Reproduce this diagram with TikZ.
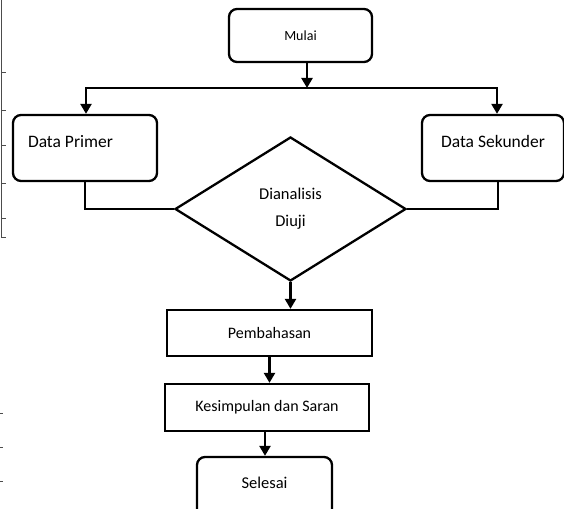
\documentclass[tikz,border=0pt]{standalone}
\usepackage{fontspec}
\setmainfont{Carlito}
\usetikzlibrary{shapes.geometric,arrows.meta}
\tikzset{
  rbox/.style={draw, line width=2.3pt, rounded corners=8pt, inner sep=0pt, font=\fontsize{16.5}{20}\selectfont},
  pbox/.style={draw, line width=2.3pt, inner sep=0pt, font=\fontsize{16}{20}\selectfont},
  dec/.style={draw, diamond, line width=2.3pt, inner sep=0pt, minimum width=231pt, minimum height=144pt, align=center, font=\fontsize{16.5}{27}\selectfont},
  arr/.style={line width=2.3pt, -{Triangle[length=10pt,width=11pt]}},
  conn/.style={line width=2.3pt},
  tabline/.style={gray!60!black, line width=0.8pt}
}
\begin{document}
\begin{tikzpicture}
[x=1pt, y=-1pt]
\useasboundingbox (0,0) rectangle (564,508);
\clip (0,0) rectangle (564,508);
% table edge left of the chart
\draw[tabline] (1.5,0) -- (1.5,237) -- (6,237);
\foreach \ty in {72,110,145,183,218}
  \draw[tabline] (1.5,\ty) -- (6,\ty);
\foreach \ty in {413,447,481}
  \draw[tabline] (0,\ty) -- (3,\ty);
% nodes
\node[rbox, minimum width=143pt, minimum height=53pt, font=\fontsize{14}{17}\selectfont] (mulai) at (300.5,35.5) {Mulai};
\node[rbox, minimum width=144pt, minimum height=66pt, text depth=14pt, text width=114pt, align=flush left, font=\fontsize{17.5}{20}\selectfont] (primer) at (85,148) {Data Primer};
\node[rbox, minimum width=142pt, minimum height=66pt, text depth=14pt, font=\fontsize{17.5}{20}\selectfont] (sekunder) at (493,148) {Data Sekunder};
\node[dec] (uji) at (290.5,209) {Dianalisis\\Diuji};
\node[pbox, minimum width=205pt, minimum height=46pt] (bahas) at (269.5,333) {Pembahasan};
\node[pbox, minimum width=204pt, minimum height=47pt] (simpul) at (267,407.5) {Kesimpulan dan Saran};
\node[rbox, minimum width=135pt, minimum height=64pt, text depth=12pt] (selesai) at (264.5,489) {Selesai};
\coordinate (split) at (307,88);
% connectors
\draw[arr] (mulai.south -| split) -- (split);
\draw[arr] (split) -| ([xshift=1pt]primer.north);
\draw[arr] (split) -| ([xshift=4pt]sekunder.north);
\draw[conn] (primer.south) |- (uji.west);
\draw[conn] ([xshift=5pt]sekunder.south) |- (uji.east);
\draw[arr] (uji.south) -- (uji.south |- bahas.north);
\draw[arr] (bahas.south) -- (bahas.south |- simpul.north);
\draw[arr] ([xshift=-2pt]simpul.south) -- ([xshift=-2pt]simpul.south |- selesai.north);
\end{tikzpicture}
\end{document}
